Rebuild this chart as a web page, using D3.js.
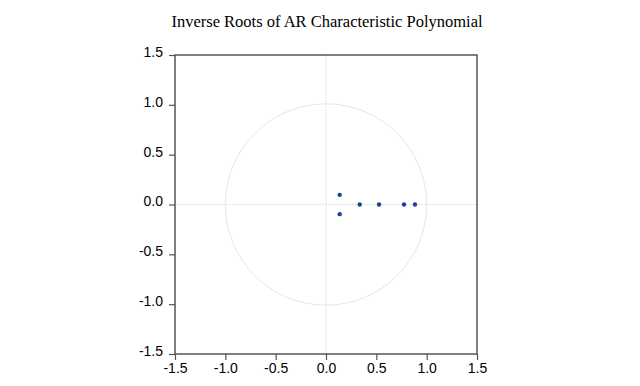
<!DOCTYPE html>
<html>
<head>
<meta charset="utf-8">
<script src="https://cdn.jsdelivr.net/npm/d3@7"></script>
<style>
  body { margin: 0; background: #fff; }
  svg { display: block; }
  .tick text { font-family: "Liberation Sans", Arial, sans-serif; font-size: 14px; fill: #000; }
</style>
</head>
<body>
<div class="ChartWrapper"></div>
<script>
// inverse roots
const realParts = [0.136, 0.136, 0.335, 0.527, 0.775, 0.884];
const imagParts = [0.097, -0.097, 0, 0, 0, 0];
const tickValues = [-1.5, -1.0, -0.5, 0.0, 0.5, 1.0, 1.5];

const CHART = {
  width: 640,
  height: 386,
  left: 175,
  right: 477,
  top: 55,
  bottom: 354,
};

const svg = d3.select('.ChartWrapper')
  .append('svg')
  .attr('width', CHART.width)
  .attr('height', CHART.height);

const x = d3.scaleLinear().domain([-1.5, 1.5]).range([CHART.left, CHART.right]);
const y = d3.scaleLinear().domain([-1.5, 1.5]).range([CHART.bottom, CHART.top]);

svg.append('text')
  .attr('x', (CHART.left + CHART.right) / 2 + 1)
  .attr('y', 27)
  .attr('text-anchor', 'middle')
  .style('font-family', '"Liberation Serif", "Times New Roman", serif')
  .style('font-size', '16.5px')
  .text('Inverse Roots of AR Characteristic Polynomial');

// zero lines
svg.append('line')
  .attr('x1', x(0)).attr('x2', x(0))
  .attr('y1', CHART.top).attr('y2', CHART.bottom)
  .attr('stroke', '#e4e4e4')
  .attr('stroke-dasharray', '2,1');
svg.append('line')
  .attr('x1', CHART.left).attr('x2', CHART.right)
  .attr('y1', y(0)).attr('y2', y(0))
  .attr('stroke', '#e4e4e4')
  .attr('stroke-dasharray', '2,1');

// unit circle
svg.append('circle')
  .attr('cx', x(0))
  .attr('cy', y(0))
  .attr('r', x(1) - x(0))
  .attr('fill', 'none')
  .attr('stroke', '#e6e6e6')
  .attr('stroke-width', 1);

// frame
svg.append('rect')
  .attr('x', CHART.left)
  .attr('y', CHART.top)
  .attr('width', CHART.right - CHART.left)
  .attr('height', CHART.bottom - CHART.top)
  .attr('fill', 'none')
  .attr('stroke', '#555')
  .attr('stroke-width', 1.5);

// plain hyphen for negatives, like the original
const fmt = d => d3.format('.1f')(d).replace('\u2212', '-');

const xAxis = svg.append('g')
  .attr('transform', `translate(0, ${CHART.bottom})`)
  .call(d3.axisBottom(x).tickValues(tickValues).tickFormat(fmt).tickSize(6).tickSizeOuter(0).tickPadding(3));

const yAxis = svg.append('g')
  .attr('transform', `translate(${CHART.left}, 0)`)
  .call(d3.axisLeft(y).tickValues(tickValues).tickFormat(fmt).tickSize(6).tickSizeOuter(0).tickPadding(6));

[xAxis, yAxis].forEach(a => {
  a.select('.domain').remove();
  a.selectAll('.tick line').attr('stroke', '#555').attr('stroke-width', 1.2);
});

yAxis.selectAll('.tick text').attr('dy', '0.1em');

svg.selectAll('circle.root')
  .data(realParts.map((re, i) => ({ re, im: imagParts[i] })))
  .enter()
  .append('circle')
  .classed('root', true)
  .attr('cx', d => x(d.re))
  .attr('cy', d => y(d.im))
  .attr('r', 2.2)
  .attr('fill', '#1f3f99');
</script>
</body>
</html>
